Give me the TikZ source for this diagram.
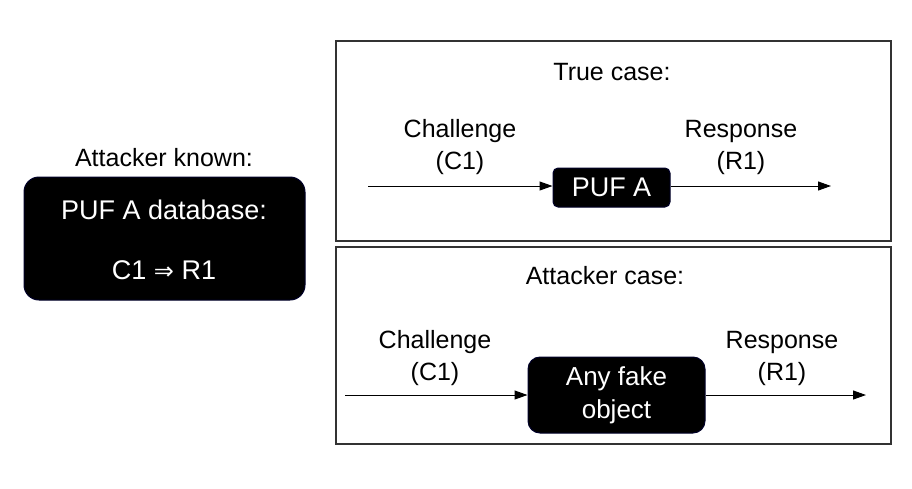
\documentclass[tikz,border=0pt]{standalone}
\usepackage{fontspec}
\setmainfont{Liberation Sans}
\newfontfamily\symfont{DejaVu Sans}
\usetikzlibrary{arrows.meta}
\tikzset{
  panel/.style={draw=black!80, line width=1.5pt, anchor=north west, inner sep=0pt},
  blackbox/.style={fill=black, draw=black!60!blue!40!black, line width=1pt, text=white, align=center, font=\fontsize{27}{32}\selectfont},
  lbl/.style={align=center, font=\fontsize{25}{32}\selectfont},
  arr/.style={line width=1pt, -{Triangle[length=13pt,width=9pt]}}
}
\begin{document}
\begin{tikzpicture}[x=1pt,y=-1pt]
\useasboundingbox (0,0) rectangle (912,488);
% panels
\node[panel, minimum width=555pt, minimum height=200pt] (top) at (335,40) {};
\node[panel, minimum width=555pt, minimum height=197pt] (bot) at (335,246) {};
% left
\node[lbl] (known) at (164,158) {Attacker known:};
\node[blackbox, rounded corners=15pt, minimum width=281pt, minimum height=123pt] (db) at (164.5,238.5) {};
\node[text=white, font=\fontsize{27}{32}\selectfont] (dbt) at (164,210) {PUF A database:};
\node[text=white, font=\fontsize{27}{32}\selectfont] (dbr) at (164,270) {C1 {\symfont\fontsize{24}{32}\selectfont ⇒} R1};
% top panel
\node[lbl] (truec) at (612,72) {True case:};
\node[lbl] (ch1) at (460,147) {Challenge\\(C1)};
\node[lbl] (rs1) at (741,147) {Response\\(R1)};
\node[blackbox, rounded corners=5pt, minimum width=117pt, minimum height=39pt, inner sep=0pt] (puf) at (611.5,187.5) {PUF A};
\coordinate (in1) at (368,186);
\coordinate (out1) at (831,186);
\draw[arr] (in1) -- (puf.west |- in1);
\draw[arr] (puf.east |- out1) -- (out1);
% bottom panel
\node[lbl] (attc) at (605,276) {Attacker case:};
\node[lbl] (ch2) at (435,358) {Challenge\\(C1)};
\node[lbl] (rs2) at (782,358) {Response\\(R1)};
\node[blackbox, rounded corners=12pt, minimum width=177pt, minimum height=76pt, inner sep=0pt, font=\fontsize{26}{33}\selectfont] (fake) at (616.5,395) {Any fake\\object};
\coordinate (in2) at (345,395);
\coordinate (out2) at (866,395);
\draw[arr] (in2) -- (fake.west |- in2);
\draw[arr] (fake.east |- out2) -- (out2);
\end{tikzpicture}
\end{document}
